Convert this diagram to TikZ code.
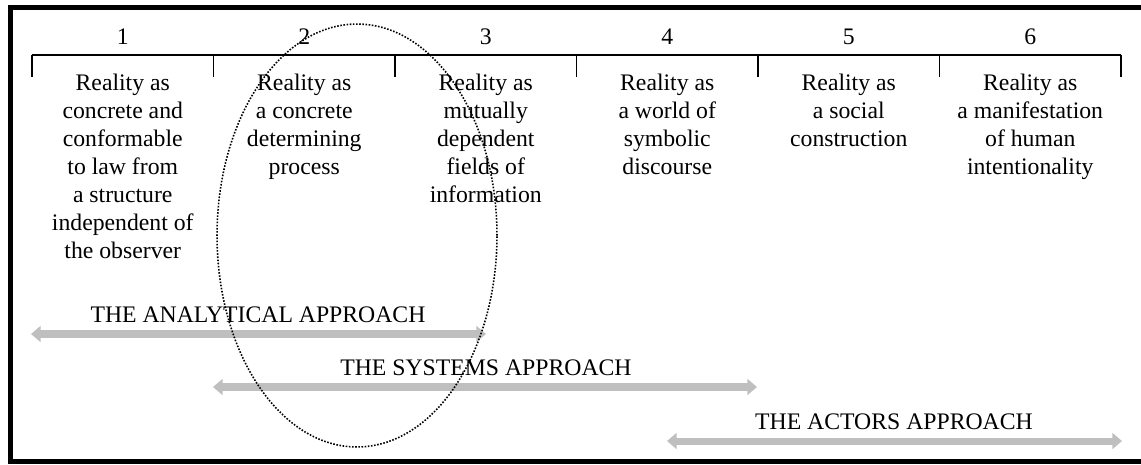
\documentclass[tikz,border=0pt]{standalone}
\usepackage{fontspec}
\setmainfont{Liberation Serif}
\usetikzlibrary{arrows.meta,positioning}

\begin{document}
\begin{tikzpicture}[x=0.02cm, y=-0.02cm,
       >={Triangle[width=9pt,length=5.5pt]}, black, text=black,
       every node/.style={font=\fontsize{13.5}{15.9}\selectfont, inner sep=0pt},
       realitybox/.style={anchor=north, align=center},
       colnumber/.style={anchor=south},
       approach/.style={<->, draw=black!25, line width=4pt},
       ruler/.style={line width=0.75pt}]
    \useasboundingbox (0,0) rectangle (1141,464);

    %% Frame (open on the right)
    \draw[line width=2.6pt] (1141,7.5) -- (10.5,7.5) -- (10.5,461.5) -- (1141,461.5);

    %% Ruler with six columns
    \foreach \i in {0,...,6}
        {\coordinate (t\i) at ({32+181.5*\i},55);}
    \draw[ruler] (t0) -- (t6);
    \foreach \i in {0,...,6}
        {\draw[ruler] (t\i) -- ++(0,22);}

    %% Column numbers and texts
    \foreach [count=\i] \txt in {{Reality as\\concrete and\\conformable\\to law from\\a structure\\independent of\\the observer},
                                 {Reality as\\a concrete\\determining\\process},
                                 {Reality as\\mutually\\dependent\\fields of\\information},
                                 {Reality as\\a world of\\symbolic\\discourse},
                                 {Reality as\\a social\\construction},
                                 {Reality as\\a manifestation\\of human\\intentionality}}
        {\node[colnumber] (n\i) at ({122.75+181.5*(\i-1)},45) {\i};
         \node[realitybox] (c\i) at ({122.75+181.5*(\i-1)},74) {\txt};}

    %% The three approaches
    \node (analytical) at (258,315) {THE ANALYTICAL APPROACH};
    \coordinate (analyticalL) at (31,334);
    \coordinate (analyticalR) at (486,334);
    \draw[approach] (analyticalL) -- (analyticalR);

    \node (systems) at (486,368) {THE SYSTEMS APPROACH};
    \coordinate (systemsL) at (213,387);
    \coordinate (systemsR) at (757,387);
    \draw[approach] (systemsL) -- (systemsR);

    \node (actors) at (894,422) {THE ACTORS APPROACH};
    \coordinate (actorsL) at (667,441);
    \coordinate (actorsR) at (1122,441);
    \draw[approach] (actorsL) -- (actorsR);

    %% Dotted ellipse round columns 2 and 3
    \draw[dash pattern=on 0.9pt off 0.9pt, line width=0.9pt] (357,235.5) ellipse [x radius=2.8cm, y radius=4.23cm];
\end{tikzpicture}
\end{document}
